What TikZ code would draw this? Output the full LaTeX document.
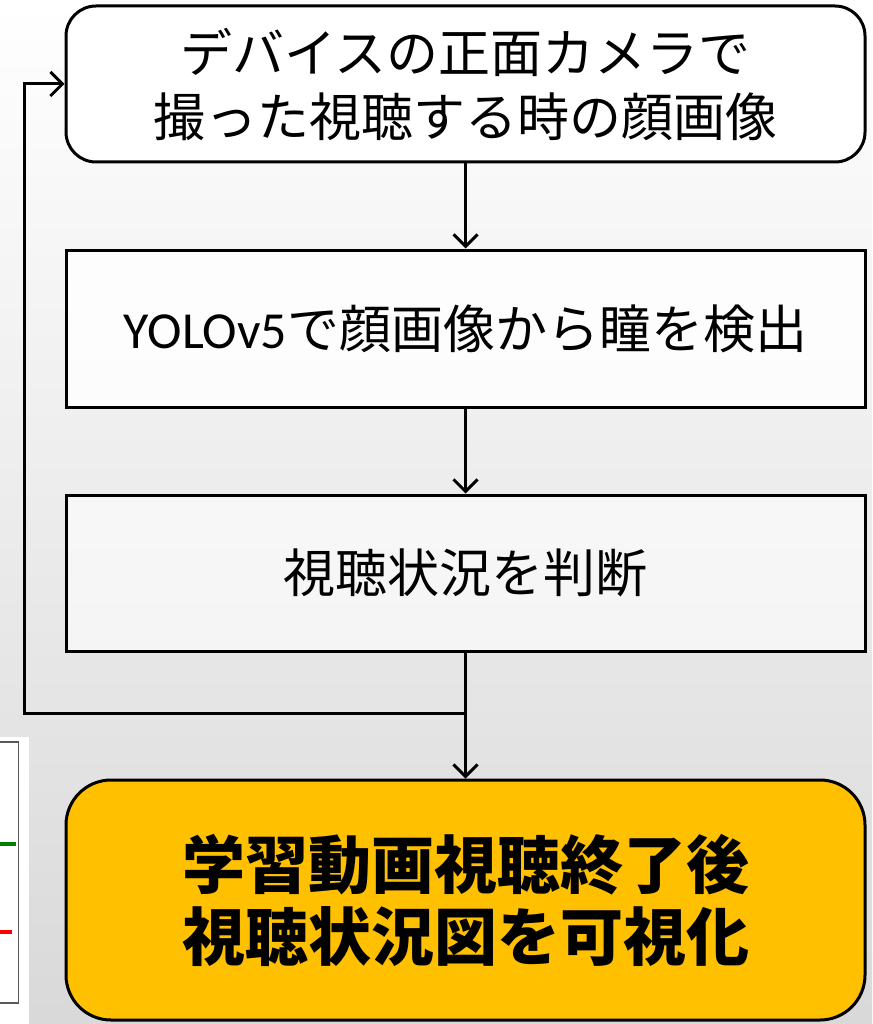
\documentclass[tikz,border=0pt]{standalone}
\usepackage{fontspec}
\setmainfont{Noto Sans CJK JP}
\newfontfamily\latinf{Carlito}
\usetikzlibrary{arrows.meta}
\definecolor{accentyellow}{HTML}{FFC000}
\begin{document}
\begin{tikzpicture}[x=1pt,y=-1pt,
  box/.style={draw=black, line width=3pt, minimum width=799pt, align=center, inner sep=0pt},
  conn/.style={draw=black, line width=3pt},
  arr/.style={conn, -{Straight Barb[length=12pt,width=24pt,line width=3pt]}},
  normtxt/.style={font=\fontsize{52}{64}\selectfont},
  boldtxt/.style={font=\fontsize{63}{72}\selectfont\bfseries}
]
\useasboundingbox (0,0) rectangle (872,1024);
\shade[top color=white, bottom color=black!15] (0,0) rectangle (872,1024);
% partial chart fragment at lower left
\fill[white] (0,737) rectangle (29,1024);
\draw[black!65, line width=1.5pt] (0,742) -- (18.5,742) -- (18.5,1003) -- (0,1003);
\draw[green!50!black, line width=3.5pt] (0,844) -- (16,844);
\draw[red, line width=3.5pt] (0,932) -- (12,932);
% boxes
\node[box, normtxt, fill=white, rounded corners=30pt, minimum height=156pt] (b1) at (465.5,84)
  {デバイスの正面カメラで\\撮った視聴する時の顔画像};
\node[box, normtxt, fill=white, fill opacity=0.85, text opacity=1, minimum height=157pt] (b2) at (465.5,328.5)
  {{\latinf YOLOv5}で顔画像から瞳を検出};
\node[box, normtxt, fill=white, fill opacity=0.6, text opacity=1, minimum height=156pt] (b3) at (465.5,573)
  {視聴状況を判断};
\node[box, boldtxt, fill=accentyellow, rounded corners=45pt, minimum height=240pt] (b4) at (465.5,900)
  {学習動画視聴終了後\\視聴状況図を可視化};
% connectors
\draw[arr] (b1.south) -- (b2.north);
\draw[arr] (b2.south) -- (b3.north);
\draw[arr] (b3.south) -- (b4.north);
\coordinate (j) at (b3.south |- 0,713);
\draw[arr] (j) -- (24,713) |- (b1.west);
\end{tikzpicture}
\end{document}
